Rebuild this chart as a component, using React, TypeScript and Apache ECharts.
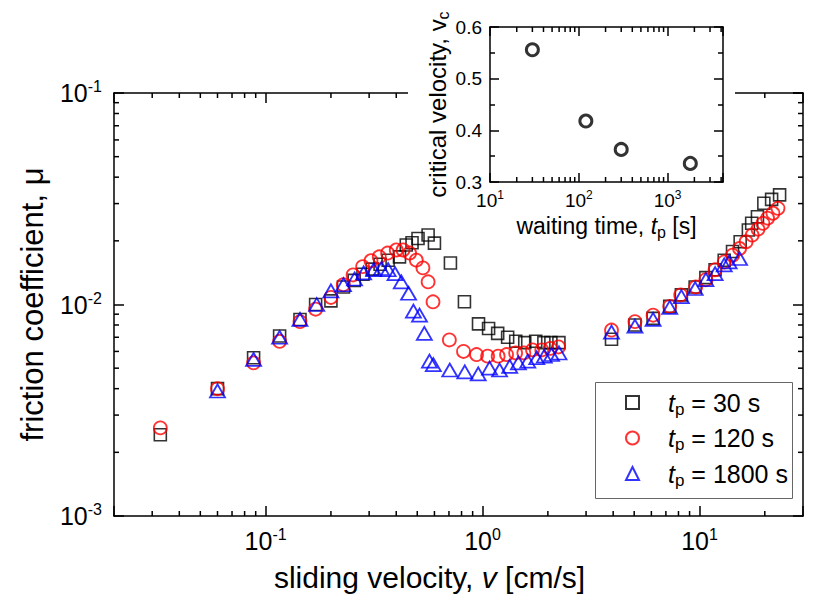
import React, { useEffect, useRef } from 'react';
import * as echarts from 'echarts';

const FONT = '"Liberation Sans", Arial, Helvetica, sans-serif';

// t_p = 30 s (black squares)
const v30 = [0.0327, 0.060, 0.088, 0.116, 0.144, 0.170, 0.200, 0.2285, 0.256, 0.281, 0.310, 0.337, 0.367, 0.414, 0.445, 0.473, 0.504, 0.561, 0.600, 0.711, 0.825, 0.958, 1.066, 1.174, 1.305, 1.422, 1.565, 1.758, 1.917, 2.065, 2.249, 3.93, 5.04, 6.11, 7.29, 8.25, 9.55, 10.7, 11.8, 13.0, 14.2, 15.4, 16.8, 17.4, 18.5, 19.8, 21.5, 23.4];
const mu30 = [0.00242, 0.0040, 0.0056, 0.0071, 0.0085, 0.0100, 0.0104, 0.0121, 0.0130, 0.0139, 0.0147, 0.0155, 0.0162, 0.0168, 0.0191, 0.0196, 0.0205, 0.0213, 0.0195, 0.0157, 0.0103, 0.0081, 0.0077, 0.0073, 0.0070, 0.0067, 0.0066, 0.0067, 0.0066, 0.0066, 0.0066, 0.00685, 0.0080, 0.0086, 0.0098, 0.0111, 0.0121, 0.0134, 0.0146, 0.0162, 0.0178, 0.0198, 0.0225, 0.0242, 0.0260, 0.0301, 0.0314, 0.0330];

// t_p = 120 s (red circles)
const v120 = [0.0327, 0.060, 0.088, 0.116, 0.144, 0.170, 0.200, 0.228, 0.253, 0.280, 0.306, 0.334, 0.365, 0.400, 0.430, 0.461, 0.495, 0.531, 0.561, 0.591, 0.703, 0.817, 0.938, 1.055, 1.18, 1.29, 1.42, 1.55, 1.70, 1.875, 2.05, 2.24, 3.93, 5.04, 6.11, 7.29, 8.19, 9.6, 10.7, 11.8, 13.0, 14.2, 15.3, 16.4, 17.5, 18.6, 19.6, 20.6, 21.8, 23.0];
const mu120 = [0.00261, 0.0040, 0.0053, 0.0067, 0.0083, 0.0095, 0.0108, 0.0124, 0.0138, 0.0151, 0.0161, 0.0168, 0.0175, 0.0181, 0.0181, 0.0175, 0.0162, 0.0149, 0.0128, 0.0103, 0.0068, 0.0060, 0.0058, 0.0057, 0.0057, 0.0058, 0.0059, 0.0059, 0.0061, 0.0061, 0.0062, 0.0063, 0.00757, 0.0083, 0.0089, 0.0098, 0.0111, 0.0121, 0.0131, 0.0146, 0.0159, 0.0171, 0.0184, 0.0198, 0.0213, 0.0227, 0.0242, 0.0256, 0.0270, 0.0285];

// t_p = 1800 s (blue triangles)
const v1800 = [0.060, 0.088, 0.116, 0.144, 0.172, 0.200, 0.2285, 0.257, 0.283, 0.315, 0.342, 0.367, 0.395, 0.422, 0.456, 0.480, 0.512, 0.539, 0.569, 0.593, 0.706, 0.828, 0.955, 1.077, 1.198, 1.334, 1.463, 1.616, 1.778, 1.926, 2.08, 2.25, 3.93, 5.04, 6.11, 7.29, 8.25, 9.55, 10.7, 11.8, 13.0, 13.7, 15.3];
const mu1800 = [0.0039, 0.0055, 0.0070, 0.0085, 0.0100, 0.0116, 0.0124, 0.0132, 0.0141, 0.0146, 0.0148, 0.0146, 0.0140, 0.0128, 0.0113, 0.0093, 0.0089, 0.0073, 0.0054, 0.0052, 0.0049, 0.0048, 0.0047, 0.0050, 0.0049, 0.0051, 0.0053, 0.0054, 0.0056, 0.0057, 0.0058, 0.0059, 0.0074, 0.0079, 0.0085, 0.0097, 0.0109, 0.0119, 0.0131, 0.0140, 0.0154, 0.0159, 0.0165];

// inset: critical velocity vs waiting time
const insetTp = [30, 120, 300, 1800];
const insetVc = [0.556, 0.418, 0.363, 0.336];

const seriesNames = ['tp30', 'tp120', 'tp1800'];
const legendText: Record<string, string> = { tp30: ' = 30 s', tp120: ' = 120 s', tp1800: ' = 1800 s' };

const xMainRange = [0.02, 30];
const yMainRange = [0.001, 0.1];
const xInsetRange = [10, 4200];
const yInsetRange = [0.3, 0.6];

const xMinorMain = [0.03, 0.04, 0.05, 0.06, 0.07, 0.08, 0.09, 0.2, 0.3, 0.4, 0.5, 0.6, 0.7, 0.8, 0.9, 2, 3, 4, 5, 6, 7, 8, 9, 20];
const yMinorMain = [0.002, 0.003, 0.004, 0.005, 0.006, 0.007, 0.008, 0.009, 0.02, 0.03, 0.04, 0.05, 0.06, 0.07, 0.08, 0.09];
const xMinorInset = [20, 30, 40, 50, 60, 70, 80, 90, 200, 300, 400, 500, 600, 700, 800, 900, 2000, 3000, 4000];

const pow10Label = (val: number) => {
  const e = Math.log10(val);
  const r = Math.round(e);
  if (Math.abs(e - r) > 1e-6) return '';
  return `{b|10}{s|${r}}`;
};

const lineStyle = { color: '#000', width: 1.5 };

function makeLogAxis(o: any) {
  return {
    type: 'log',
    logBase: 10,
    gridIndex: o.grid,
    min: o.min,
    max: o.max,
    position: o.position,
    z: o.z,
    axisLine: { show: true, onZero: false, lineStyle },
    axisTick: { show: true, inside: true, length: o.tickLen, lineStyle },
    axisLabel: o.label
      ? {
          show: true,
          formatter: pow10Label,
          margin: o.margin,
          rich: {
            b: { fontSize: o.fs, fontFamily: FONT, color: '#000', lineHeight: o.fs + 4 },
            s: { fontSize: Math.round(o.fs * 0.64), fontFamily: FONT, color: '#000', lineHeight: Math.round(o.fs * 0.64), verticalAlign: 'top' },
          },
        }
      : { show: false },
    splitLine: { show: false },
    ...(o.extra || {}),
  };
}

function minorTicks(xi: number, yi: number, vals: number[], isX: boolean, xr: number[], yr: number[], len: number, z: number) {
  return {
    type: 'custom',
    xAxisIndex: xi,
    yAxisIndex: yi,
    silent: true,
    z,
    data: vals.map((v) => (isX ? [v, yr[0]] : [xr[0], v])),
    renderItem: (params: any, api: any) => {
      const stroke = { stroke: '#000', lineWidth: 1.5 };
      if (isX) {
        const v = api.value(0);
        const b = api.coord([v, yr[0]]);
        const t = api.coord([v, yr[1]]);
        return {
          type: 'group',
          children: [
            { type: 'line', shape: { x1: b[0], y1: b[1], x2: b[0], y2: b[1] - len }, style: stroke },
            { type: 'line', shape: { x1: t[0], y1: t[1], x2: t[0], y2: t[1] + len }, style: stroke },
          ],
        };
      }
      const v = api.value(1);
      const l = api.coord([xr[0], v]);
      const r = api.coord([xr[1], v]);
      return {
        type: 'group',
        children: [
          { type: 'line', shape: { x1: l[0], y1: l[1], x2: l[0] + len, y2: l[1] }, style: stroke },
          { type: 'line', shape: { x1: r[0], y1: r[1], x2: r[0] - len, y2: r[1] }, style: stroke },
        ],
      };
    },
  };
}

export default function App() {
  const ref = useRef<HTMLDivElement>(null);
  useEffect(() => {
    if (!ref.current) return;
    const chart = echarts.init(ref.current, undefined, { renderer: 'svg' });
    const txt = (fs: number) => ({ fontSize: fs, fontFamily: FONT, color: '#000' });
    const option: any = {
      animation: false,
      backgroundColor: '#fff',
      grid: [
        { left: 114, top: 93, width: 689, height: 423 },
        { left: 490, top: 27, width: 233, height: 155 },
      ],
      xAxis: [
        makeLogAxis({
          grid: 0, min: xMainRange[0], max: xMainRange[1], position: 'bottom', tickLen: 10, label: true, fs: 25, margin: 10, z: 0,
          extra: {
            name: '{t|sliding velocity, }{i|v}{t| [cm/s]}',
            nameLocation: 'middle',
            nameGap: 46,
            nameTextStyle: {
              padding: [0, 58, 0, 0],
              rich: { t: { ...txt(30) }, i: { ...txt(30), fontStyle: 'italic' } },
            },
          },
        }),
        makeLogAxis({ grid: 0, min: xMainRange[0], max: xMainRange[1], position: 'top', tickLen: 10, label: false, z: 0 }),
        makeLogAxis({
          grid: 1, min: xInsetRange[0], max: xInsetRange[1], position: 'bottom', tickLen: 9, label: true, fs: 19, margin: 7, z: 60,
          extra: {
            name: '{t|waiting time, }{i|t}{sub|p}{t| [s]}',
            nameLocation: 'middle',
            nameGap: 30,
            nameTextStyle: {
              rich: {
                t: { ...txt(23), lineHeight: 28 },
                i: { ...txt(23), fontStyle: 'italic', lineHeight: 28 },
                sub: { ...txt(16), lineHeight: 16, verticalAlign: 'bottom' },
              },
            },
          },
        }),
        makeLogAxis({ grid: 1, min: xInsetRange[0], max: xInsetRange[1], position: 'top', tickLen: 9, label: false, z: 60 }),
      ],
      yAxis: [
        makeLogAxis({
          grid: 0, min: yMainRange[0], max: yMainRange[1], position: 'left', tickLen: 10, label: true, fs: 25, margin: 12, z: 0,
          extra: {
            name: 'friction coefficient, μ',
            nameLocation: 'middle',
            nameRotate: 90,
            nameGap: 66,
            nameTextStyle: { ...txt(31) },
          },
        }),
        makeLogAxis({ grid: 0, min: yMainRange[0], max: yMainRange[1], position: 'right', tickLen: 10, label: false, z: 0 }),
        {
          type: 'value', gridIndex: 1, min: yInsetRange[0], max: yInsetRange[1], interval: 0.1, position: 'left', z: 60,
          axisLine: { show: true, onZero: false, lineStyle },
          axisTick: { show: true, inside: true, length: 9, lineStyle },
          minorTick: { show: true, splitNumber: 2, length: 5, lineStyle },
          axisLabel: { ...txt(19), margin: 8, formatter: (v: number) => v.toFixed(1) },
          splitLine: { show: false },
          name: '{t|critical velocity, v}{sub|c}',
          nameLocation: 'middle',
          nameRotate: 90,
          nameGap: 36,
          nameTextStyle: {
            rich: {
              t: { ...txt(24), lineHeight: 28 },
              sub: { ...txt(16), lineHeight: 16, verticalAlign: 'bottom' },
            },
          },
        },
        {
          type: 'value', gridIndex: 1, min: yInsetRange[0], max: yInsetRange[1], interval: 0.1, position: 'right', z: 60,
          axisLine: { show: true, onZero: false, lineStyle },
          axisTick: { show: true, inside: true, length: 9, lineStyle },
          minorTick: { show: true, splitNumber: 2, length: 5, lineStyle },
          axisLabel: { show: false },
          splitLine: { show: false },
        },
      ],
      legend: {
        data: seriesNames,
        orient: 'vertical',
        left: 620,
        top: 385,
        itemWidth: 13,
        itemHeight: 13,
        itemGap: 8,
        selectedMode: false,
        formatter: (name: string) => `{i|t}{sub|p}{t|${legendText[name]}}`,
        textStyle: {
          padding: [0, 0, 0, 24],
          rich: {
            t: { ...txt(25), lineHeight: 30 },
            i: { ...txt(25), fontStyle: 'italic', lineHeight: 30 },
            sub: { ...txt(17), lineHeight: 17, verticalAlign: 'bottom' },
          },
        },
      },
      graphic: {
        elements: [
          { type: 'rect', silent: true, z: 50, shape: { x: 408, y: 0, width: 327, height: 200 }, style: { fill: '#fff' } },
          { type: 'rect', silent: true, z: 5, shape: { x: 595.5, y: 382.5, width: 197, height: 116 }, style: { fill: 'none', stroke: '#666', lineWidth: 1 } },
        ],
      },
      series: [
        {
          type: 'scatter', name: 'tp30', xAxisIndex: 0, yAxisIndex: 0, z: 2,
          symbol: 'rect', symbolSize: 12,
          itemStyle: { color: 'rgba(0,0,0,0)', borderColor: '#000', borderWidth: 1.6 },
          data: v30.map((v, i) => [v, mu30[i]]),
        },
        {
          type: 'scatter', name: 'tp120', xAxisIndex: 0, yAxisIndex: 0, z: 3,
          symbol: 'circle', symbolSize: 13,
          itemStyle: { color: 'rgba(0,0,0,0)', borderColor: '#ff0000', borderWidth: 1.8 },
          data: v120.map((v, i) => [v, mu120[i]]),
        },
        {
          type: 'scatter', name: 'tp1800', xAxisIndex: 0, yAxisIndex: 0, z: 4,
          symbol: 'triangle', symbolSize: [15, 13],
          itemStyle: { color: 'rgba(0,0,0,0)', borderColor: '#0000ff', borderWidth: 1.8 },
          data: v1800.map((v, i) => [v, mu1800[i]]),
        },
        minorTicks(0, 0, xMinorMain, true, xMainRange, yMainRange, 5, 1),
        minorTicks(0, 0, yMinorMain, false, xMainRange, yMainRange, 5, 1),
        minorTicks(2, 2, xMinorInset, true, xInsetRange, yInsetRange, 5, 61),
        {
          type: 'scatter', name: 'inset', xAxisIndex: 2, yAxisIndex: 2, z: 62,
          symbol: 'circle', symbolSize: 12,
          itemStyle: { color: 'rgba(0,0,0,0)', borderColor: '#000', borderWidth: 3 },
          data: insetTp.map((t, i) => [t, insetVc[i]]),
        },
      ],
    };
    chart.setOption(option);
    return () => chart.dispose();
  }, []);
  return <div ref={ref} style={{ position: 'absolute', left: 0, top: 0, width: 831, height: 613 }} />;
}
